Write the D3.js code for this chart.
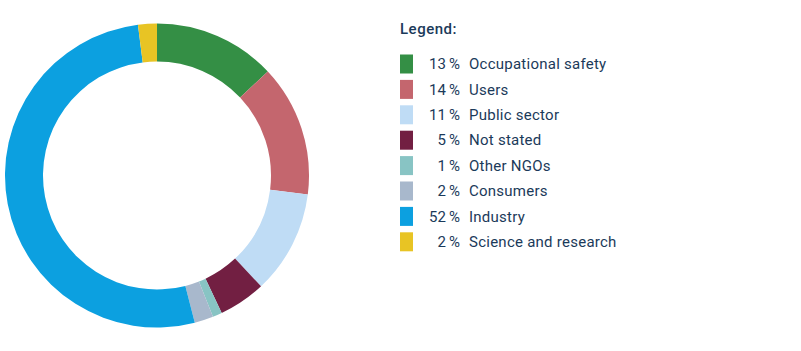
<!DOCTYPE html>
<html>
<head>
<meta charset="utf-8">
<script src="https://cdn.jsdelivr.net/npm/d3@7"></script>
<style>
  body { margin: 0; background: #fff; }
  svg text { font-family: Roboto, "DejaVu Sans", sans-serif; fill: #1b3a5a; }
</style>
</head>
<body>
<div id="chart"></div>
<script>
// data
var categories = ["Occupational safety", "Users", "Public sector", "Not stated", "Other NGOs", "Consumers", "Industry", "Science and research"]
var shares = [13, 14, 11, 5, 1, 2, 52, 2]
var colours = ["#348f45", "#c4666e", "#bfdcf5", "#721f42", "#88c4c4", "#a8b8cc", "#0ca0e0", "#e8c424"]

var W = 801, H = 351
var svg = d3.select("#chart").append("svg").attr("width", W).attr("height", H)

var rows = categories.map(function(c, i){ return {name: c, value: shares[i], colour: colours[i]} })

//* donut
var pie = d3.pie().value(function(d){ return d.value }).sort(null)
var arc = d3.arc().innerRadius(114).outerRadius(152)
var g = svg.append("g").attr("transform", "translate(157,175.5)")
g.selectAll("path").data(pie(rows)).enter().append("path")
    .attr("d", arc)
    .attr("fill", function(d){ return d.data.colour })

//* legend
var leg = svg.append("g").attr("transform", "translate(400,0)")
leg.append("text").attr("x", 0).attr("y", 34).text("Legend:")
    .style("font-weight", "500").style("font-size", "15px").style("letter-spacing", "0.5px")

var step = 25.4, box = 19
var y = d3.scaleBand().domain(categories).range([54.5, 54.5 + step * 7 + box]).paddingInner((step - box) / step).paddingOuter(0)

var item = leg.selectAll("g.item").data(rows).enter().append("g").attr("class", "item")
    .attr("transform", function(d){ return "translate(0," + y(d.name) + ")" })
item.append("rect").attr("width", 13).attr("height", y.bandwidth()).attr("fill", function(d){ return d.colour })
item.append("text").attr("x", 60).attr("y", y.bandwidth() / 2).attr("dy", "0.35em")
    .attr("text-anchor", "end").style("font-size", "15px")
    .text(function(d){ return d.value + "\u2009%" })
item.append("text").attr("x", 69).attr("y", y.bandwidth() / 2).attr("dy", "0.35em")
    .style("font-size", "15px").style("letter-spacing", "0.25px")
    .text(function(d){ return d.name })
</script>
</body>
</html>
